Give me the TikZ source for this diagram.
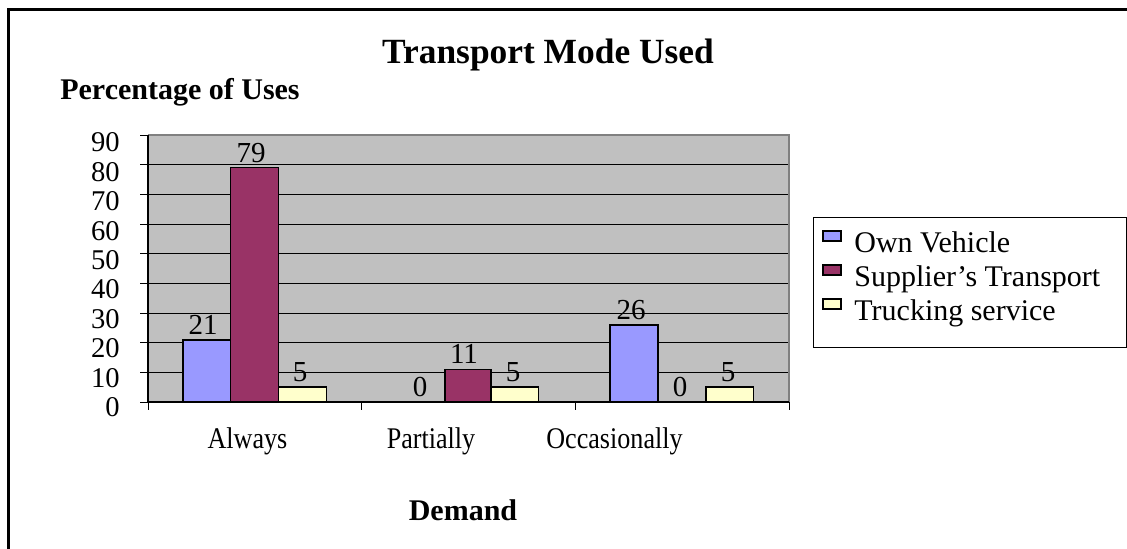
\documentclass[tikz,border=0pt]{standalone}
\usepackage{fontspec}
\setmainfont{Liberation Serif}
\newfontfamily\narrowserif[FakeStretch=0.87]{Liberation Serif}

\definecolor{ownveh}{HTML}{9999FF}
\definecolor{supptrans}{HTML}{993366}
\definecolor{truckserv}{HTML}{FFFFCC}
\definecolor{plotgray}{HTML}{C0C0C0}

\tikzset{
    bar/.style={draw=black,line width=0.8pt},
    vallab/.style={anchor=base,inner sep=0pt,font=\fontsize{14.5}{16}\selectfont},
    ylab/.style={anchor=base east,inner sep=0pt,font=\fontsize{14.3}{16}\selectfont},
    catlab/.style={anchor=base,inner sep=0pt,font=\narrowserif\fontsize{15}{17}\selectfont},
    leglab/.style={anchor=base west,inner sep=0pt,font=\fontsize{15}{17}\selectfont}
}

\begin{document}
\begin{tikzpicture}[x=0.5pt,y=-0.5pt]
    \useasboundingbox (0,0) rectangle (1127,548);
    \clip (0,0) rectangle (1127,548);
    \draw[line width=1.5pt](8,9) rectangle (1200,600);

    % titles
    \node[anchor=base,inner sep=0pt,font=\bfseries\fontsize{17.7}{20}\selectfont] (title) at (548,63.3) {Transport Mode Used};
    \node[anchor=base,inner sep=0pt,font=\bfseries\fontsize{15}{18}\selectfont] (ytitle) at (180,99) {Percentage of Uses};
    \node[anchor=base,inner sep=0pt,font=\bfseries\fontsize{15}{18}\selectfont] (xtitle) at (463,520) {Demand};

    % plot area and grid
    \fill[plotgray](148,135) rectangle (789,402);
    \foreach \v in {10,20,...,80}
        \draw[line width=0.5pt](148,{402-\v*2.9667})--(789,{402-\v*2.9667});
    \draw[gray,line width=0.8pt](148,135)--(789,135)--(789,402);
    \foreach \v in {0,10,...,90}{
        \draw[line width=0.5pt](140,{402-\v*2.9667})--(148,{402-\v*2.9667});
        \node[ylab] (y\v) at (120,{416.7-\v*2.944}) {\v};
    }
    \draw[line width=0.6pt](148,135)--(148,402)--(789,402);
    \foreach \x in {148,361.7,575.3,789}
        \draw[line width=0.5pt](\x,402)--(\x,410);

    % bars
    \filldraw[bar,fill=ownveh](183,402) rectangle (230.5,{402-21*2.9667});
    \filldraw[bar,fill=supptrans](230.5,402) rectangle (278.5,{402-79*2.9667});
    \filldraw[bar,fill=truckserv](278.5,402) rectangle (326.5,{402-5*2.9667});
    \filldraw[bar,fill=supptrans](445,402) rectangle (491,{402-11*2.9667});
    \filldraw[bar,fill=truckserv](491,402) rectangle (538.5,{402-5*2.9667});
    \filldraw[bar,fill=ownveh](610,402) rectangle (658,{402-26*2.9667});
    \filldraw[bar,fill=truckserv](706,402) rectangle (753.5,{402-5*2.9667});

    % value labels
    \node[vallab] (v21) at (203,{396.5-21*2.9667}) {21};
    \node[vallab] (v79) at (251,{396.5-79*2.9667}) {79};
    \node[vallab] (v5a) at (300,{396.5-5*2.9667}) {5};
    \node[vallab] (v0a) at (420,396.5) {0};
    \node[vallab] (v11) at (464,{396.5-11*2.9667}) {11};
    \node[vallab] (v5b) at (513,{396.5-5*2.9667}) {5};
    \node[vallab] (v26) at (631,{396.5-26*2.9667}) {26};
    \node[vallab] (v0b) at (680,396.5) {0};
    \node[vallab] (v5c) at (728,{396.5-5*2.9667}) {5};

    % categories
    \node[catlab] (always) at (247.5,448) {Always};
    \node[catlab] (partially) at (431,448) {Partially};
    \node[catlab] (occas) at (614.5,448) {Occasionally};

    % legend
    \draw[line width=0.5pt](813,217) rectangle (1126.5,347);
    \filldraw[bar,line width=0.7pt,fill=ownveh](823,231) rectangle (841,241);
    \filldraw[bar,line width=0.7pt,fill=supptrans](823,265) rectangle (841,275);
    \filldraw[bar,line width=0.7pt,fill=truckserv](823,299) rectangle (841,309);
    \node[leglab] (legown) at (854,252) {Own Vehicle};
    \node[leglab] (legsupp) at (854,286) {Supplier’s Transport};
    \node[leglab] (legtruck) at (854,320) {Trucking service};
\end{tikzpicture}
\end{document}
